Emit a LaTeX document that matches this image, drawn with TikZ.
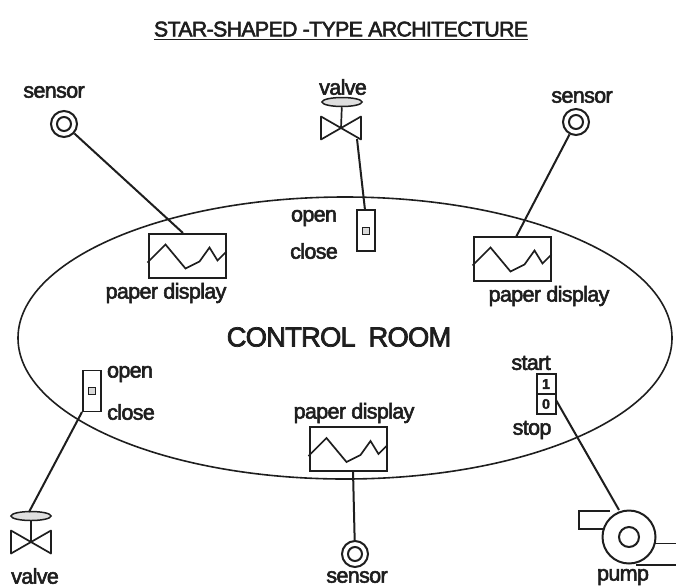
\documentclass[tikz,border=0pt]{standalone}
\usepackage{fontspec}
\setmainfont{Liberation Sans}[FakeBold=2.6,LetterSpace=-3]
\usetikzlibrary{shapes.geometric,calc}
\definecolor{ink}{HTML}{1E1E1E}
\tikzset{
  x=1pt,y=-1pt,
  every node/.style={text=ink,inner sep=0pt,font=\fontsize{21.5}{23}\selectfont},
  wire/.style={draw=ink,line width=2pt},
  thin line/.style={draw=ink,line width=1.7pt},
  sensorouter/.style={circle,draw=ink,line width=2pt,minimum size=26pt,fill=white},
  sensorinner/.style={circle,draw=ink,line width=2pt,minimum size=14pt},
  screen/.style={rectangle,draw=ink,line width=2pt,minimum width=77pt,minimum height=44pt,fill=white},
  switchbox/.style={rectangle,draw=ink,line width=1.8pt,minimum width=18pt,minimum height=41pt,fill=white},
  knob/.style={rectangle,draw=ink,line width=1.8pt,minimum width=7pt,minimum height=7pt,fill=gray!30},
  valvecap/.style={ellipse,draw=ink,line width=1.5pt,minimum width=40pt,minimum height=9pt,fill=gray!25},
  keycell/.style={rectangle,draw=ink,line width=2pt,minimum width=19pt,minimum height=20pt,fill=white,
    font=\fontsize{14}{14}\selectfont\bfseries},
}
\newcommand{\wave}[1]{%
  \draw[thin line] ($(#1.north west)+(0,30)$) -- ++(18,-18) -- ++(20,24) -- ++(14,-7) -- ++(10,-14) -- ++(8,13) -- ($(#1.north east)+(0,19)$);}
\newcommand{\valvebody}[2]{%
  \begin{scope}[shift={(#1,#2)}]
    \draw[thin line,line join=round] (-20,-11.5) -- (20,11.5) -- (20,-11.5) -- (-20,11.5) -- cycle;
  \end{scope}}
\begin{document}
\begin{tikzpicture}
\useasboundingbox (0,0) rectangle (676,587);
% title
\node[font=\fontsize{21.3}{23}\selectfont,text depth=0pt] (title) at (341,29) {STAR-SHAPED -TYPE ARCHITECTURE};
\draw[draw=ink,line width=1.5pt] ($(title.south west)+(0,3)$) -- ($(title.south east)+(0,3)$);
% room
\node[ellipse,draw=ink,line width=1.6pt,minimum width=654pt,minimum height=282pt] (room) at (345,338) {};
\node[font=\fontsize{27.4}{29}\selectfont] (roomlabel) at (339,337) {CONTROL\hspace{6pt} ROOM};

% displays
\node[screen] (d1) at (187,255.5) {};
\node[screen] (d2) at (512,258.5) {};
\node[screen] (d3) at (348,449) {};
\wave{d1}\wave{d2}\wave{d3}
\node (d1l) at (166,293) {paper display};
\node (d2l) at (549,296) {paper display};
\node (d3l) at (354,413) {paper display};

% sensors
\node[sensorouter] (s1) at (64,124) {};
\node[sensorinner] (s1i) at (s1) {};
\node (s1l) at (54,92) {sensor};
\node[sensorouter] (s2) at (576,122) {};
\node[sensorinner] (s2i) at (s2) {};
\node (s2l) at (582,97) {sensor};
\node[sensorouter] (s3) at (355,554) {};
\node[sensorinner] (s3i) at (s3) {};
\node (s3l) at (357,577) {sensor};

% top valve
\valvebody{341}{128}
\node[valvecap] (v1) at (342,102) {};
\coordinate (v1c) at (341,128);
\draw[thin line] (v1) -- (v1c);
\coordinate (v1e) at (357,139);
\node (v1l) at (343,87) {valve};

% top switch
\node[switchbox] (sw1) at (366,230.5) {};
\node[knob] (k1) at (366,231) {};
\node (o1) at (314,218) {open};
\node (c1) at (314,251) {close};

% left switch
\node[switchbox] (sw2) at (92,391) {};
\node[knob] (k2) at (92,391) {};
\node (o2) at (130,374) {open};
\node (c2) at (131,412) {close};

% bottom-left valve
\valvebody{31}{542}
\node[valvecap] (v2) at (31,516) {};
\coordinate (v2c) at (31,542);
\draw[thin line] (v2) -- (v2c);
\node (v2l) at (35,576) {valve};

% start/stop
\node[keycell] (k1on) at (546,384) {1};
\node[keycell] (k1off) at (546,404) {0};
\node (startl) at (531,363) {start};
\node (stopl) at (532,430) {stop};

% pump
\draw[thin line] (610,511) -- (579,511) -- (579,529) -- (610,529);
\draw[thin line] (648,543.5) -- (676,543.5);
\draw[thin line] (636,565) -- (676,565);
\node[circle,draw=ink,line width=2pt,minimum size=53pt,fill=white] (pump) at (629,537) {};
\node[circle,draw=ink,line width=2pt,minimum size=20pt] (pumpi) at (pump) {};
\node (pumpl) at (623,577) {pump};

% connectors
\coordinate (d1a) at (183,233);
\coordinate (d2a) at (516,237);
\coordinate (d3a) at (353,471);
\coordinate (sw2a) at (82,412);
\coordinate (v2a) at (29,512);
\coordinate (sw1a) at (365,210);
\coordinate (k1a) at (556,400);
\coordinate (pumpa) at (619,510);
\draw[wire] (s1) -- (d1a);
\draw[wire] (s2) -- (d2a);
\draw[wire] (s3) -- (d3a);
\draw[wire] (v1e) -- (sw1a);
\draw[wire] (sw2a) -- (v2a);
\draw[wire] (k1a) -- (pumpa);
\end{tikzpicture}
\end{document}
